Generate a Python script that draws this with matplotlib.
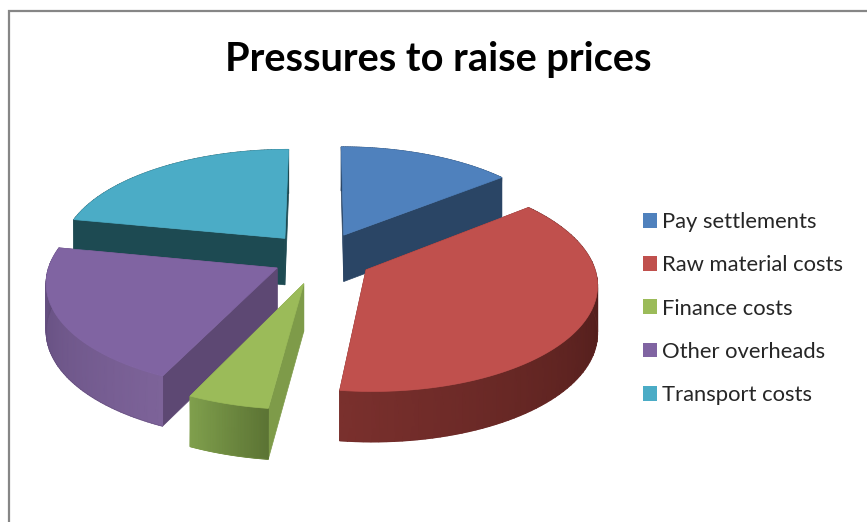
import numpy as np
import matplotlib
matplotlib.use('Agg')
import matplotlib.pyplot as plt
from matplotlib.colors import LinearSegmentedColormap
from matplotlib.patches import Patch

title = 'Pressures to raise prices'
labels = ['Pay settlements', 'Raw material costs', 'Finance costs', 'Other overheads', 'Transport costs']
values = [14.2, 37.8, 5, 21.1, 21.9]

top_colors = ['#4f81bd', '#c0504d', '#9bbb59', '#8064a2', '#4bacc6']
face_colors = ['#2a4565', '#6e2b29', '#7e9b49', '#5d4873', '#1d4a52']
rim_start = ['#2a4565', '#3c1412', '#5c7434', '#7d6399', '#1d4a52']
rim_end = ['#2a4565', '#7a302d', '#80a04d', '#5f4a7a', '#1d4a52']
explode = [0.25, 0.23, 0.25, 0.21, 0.25]

# fake 3d pie: world coords on a unit disc, then a simple perspective
cx, cy = 320, 258
fx, fy, persp, depth = 226, 104, 0.12, 47


def project(x, y, z=0.0):
    w = 1 + persp * y
    return cx + fx * x / w, cy - fy * y / w + depth * z / np.sqrt(w)


fig = plt.figure(figsize=(8.67, 5.22), dpi=100)
ax = fig.add_axes([0, 0, 1, 1])

# chart border runs off the right and bottom
ax.plot([9, 9, 867], [522, 11, 11], color='#868686', lw=1.6, solid_joinstyle='miter')

angles = np.cumsum([0] + values) * 3.6

# back slices first
for i in [4, 0, 3, 2, 1]:
    a0, a1 = angles[i], angles[i + 1]
    mid = np.radians((a0 + a1) / 2)
    ox, oy = explode[i] * np.sin(mid), explode[i] * np.cos(mid)
    th = np.radians(np.linspace(a0, a1, 80))
    rx, ry = ox + np.sin(th), oy + np.cos(th)

    # the two cut faces
    for tx, ty in [(rx[0], ry[0]), (rx[-1], ry[-1])]:
        p = [project(ox, oy), project(tx, ty), project(tx, ty, 1), project(ox, oy, 1)]
        ax.fill(*zip(*p), color=face_colors[i], lw=0.5, zorder=2)

    # outer wall, gouraud keeps the shading smooth
    x0, y0 = project(rx, ry)
    x1, y1 = project(rx, ry, 1)
    shade = np.tile(np.linspace(0, 1, len(th)), (2, 1))
    cmap = LinearSegmentedColormap.from_list('rim', [rim_start[i], rim_end[i]])
    ax.pcolormesh(np.vstack([x0, x1]), np.vstack([y0, y1]), shade, cmap=cmap,
                  shading='gouraud', zorder=3)
    ax.plot(x1, y1, color=face_colors[i], lw=0.4, alpha=0.6, zorder=3)

    # top surface
    sx, sy = project(np.r_[ox, rx], np.r_[oy, ry])
    ax.fill(sx, sy, color=top_colors[i], lw=0.5, zorder=4)

ax.set_xlim(0, 867)
ax.set_ylim(522, 0)
ax.axis('off')

ax.text(438, 60, title, ha='center', va='center', fontsize=28.6, fontweight='bold',
        family='Lato', color='black')

handles = [Patch(facecolor=c, edgecolor='none') for c in top_colors]
ax.legend(handles, labels, loc='upper left', bbox_to_anchor=(643 / 867, 1 - 212 / 522),
          frameon=False, prop={'family': 'Lato', 'size': 15.8}, labelcolor='#262626',
          handlelength=0.65, handleheight=0.65, handletextpad=0.22,
          labelspacing=1.06, borderpad=0, borderaxespad=0)

fig.savefig('out.png', dpi=100)
